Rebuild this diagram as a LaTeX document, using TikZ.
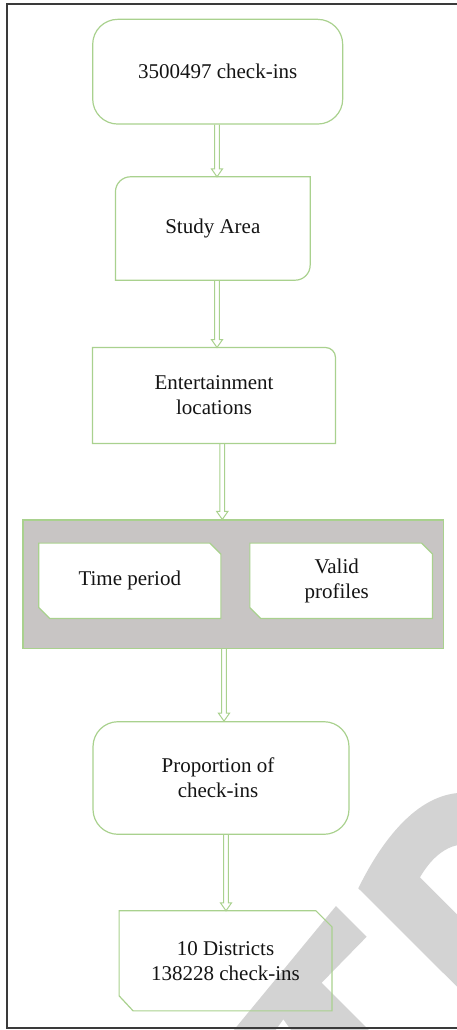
\documentclass[tikz,border=0pt]{standalone}
\usepackage{fontspec}
\setmainfont{Liberation Serif}
\usetikzlibrary{calc}
\definecolor{boxgreen}{HTML}{A9D18E}
\definecolor{panelgrey}{RGB}{200,197,196}
\definecolor{wmgrey}{RGB}{211,211,211}
\definecolor{framegrey}{HTML}{3A3A3A}
\tikzset{
  txt/.style={font=\fontsize{21}{25}\selectfont, align=center, text=black!92, inner sep=0pt},
  boxline/.style={draw=boxgreen, line width=1.2pt},
  plainbox/.style={txt, draw=none},
  roundbox/.style={txt, boxline, rounded corners=25pt},
  panel/.style={boxline, fill=panelgrey, inner sep=0pt},
  framestyle/.style={draw=framegrey, line width=1.6pt},
  watermark/.style={fill=wmgrey, draw=none},
  dblarrow/.style={boxline, line width=1pt, line join=miter,
    to path={let \p1=(\tikztostart), \p2=(\tikztotarget) in
      (\x1-2.4pt,\y1) -- (\x1-2.4pt,\y2+8pt) -- (\x1-5.6pt,\y2+8pt) -- (\x1,\y2)
      -- (\x1+5.6pt,\y2+8pt) -- (\x1+2.4pt,\y2+8pt) -- (\x1+2.4pt,\y1)}}
}
\begin{document}
\begin{tikzpicture}[x=1pt,y=-1pt]
\useasboundingbox (0,0) rectangle (457,1030);
\clip (0,0) rectangle (457,1030);

% watermark
\path[watermark] (233,1031) -- (336,906) -- (366.7,936.7) -- (321.7,982.7) -- (370,1031)
  -- (291.7,1031) -- (283.3,1019.3) -- (275,1031) -- cycle;
\path[watermark] (358.3,888.3) .. controls (378,848) and (412,797) .. (458,793) -- (458,845)
  .. controls (443,848) and (430,860) .. (420,877.3) -- (458,915.3) -- (458,987.7) -- cycle;

% outer frame
\draw[framestyle] (460,4) -- (6.7,4) -- (6.7,1028) -- (460,1028);

% boxes
\node[roundbox, minimum width=250pt, minimum height=104.7pt] (b1) at (217.7,71.7) {3500497 check-ins};

\node[plainbox, minimum width=194.3pt, minimum height=103pt] (b2) at (212.8,228.5) {Study Area};
\draw[boxline] (b2.north east) -- ([yshift=15pt]b2.south east)
  arc[start angle=0, end angle=-90, radius=15pt] -- (b2.south west)
  -- ([yshift=-15pt]b2.north west) arc[start angle=180, end angle=90, radius=15pt] -- cycle;

\node[plainbox, minimum width=242.6pt, minimum height=95.6pt] (b3) at (214,395.5) {Entertainment\\locations};
\draw[boxline] ([xshift=-10pt]b3.north east) arc[start angle=90, end angle=0, radius=10pt]
  -- (b3.south east) -- (b3.south west) -- (b3.north west) -- cycle;

\node[panel, minimum width=420.3pt, minimum height=128.3pt] (grp) at (233.2,584.2) {};

\node[plainbox, minimum width=181.7pt, minimum height=75pt] (tp) at (129.8,580.8) {};
\node[plainbox, minimum width=182.3pt, minimum height=75pt] (vp) at (341.2,580.8) {};
\fill[white] ([xshift=-11pt]tp.north east) -- ([yshift=-11pt]tp.north east) -- (tp.south east)
  -- ([xshift=11pt]tp.south west) -- ([yshift=11pt]tp.south west) -- (tp.north west) -- cycle;
\fill[white] ([xshift=-11pt]vp.north east) -- ([yshift=-11pt]vp.north east) -- (vp.south east)
  -- ([xshift=11pt]vp.south west) -- ([yshift=11pt]vp.south west) -- (vp.north west) -- cycle;
\node[txt] (tptext) at (tp.center) {Time period};
\node[txt] (vptext) at ([xshift=-4.5pt]vp.center) {Valid\\profiles};
\draw[boxline] ([xshift=-11pt]tp.north east) -- ([yshift=-11pt]tp.north east) -- (tp.south east)
  -- ([xshift=11pt]tp.south west) -- ([yshift=11pt]tp.south west) -- (tp.north west) -- cycle;
\draw[boxline] ([xshift=-11pt]vp.north east) -- ([yshift=-11pt]vp.north east) -- (vp.south east)
  -- ([xshift=11pt]vp.south west) -- ([yshift=11pt]vp.south west) -- (vp.north west) -- cycle;

\node[roundbox, minimum width=256pt, minimum height=112.6pt] (b5) at (221,778) {\hspace*{-6pt}Proportion of\\\hspace*{-6pt}check-ins};

\node[plainbox, minimum width=212.4pt, minimum height=99.7pt] (b6) at (225.5,960.8) {10 Districts\\138228 check-ins};
\draw[boxline] ([xshift=-16pt]b6.north east) -- ([yshift=-16pt]b6.north east) -- (b6.south east)
  -- ([xshift=14pt]b6.south west) -- ([yshift=15pt]b6.south west) -- (b6.north west) -- cycle;

% connectors
\draw[dblarrow] ([xshift=-0.7pt]b1.south) to (b2.north);
\draw[dblarrow] ([xshift=4.2pt]b2.south) to (b3.north);
\draw[dblarrow] ([xshift=8.3pt]b3.south) to (grp.north);
\draw[dblarrow] ([xshift=-9.2pt]grp.south) to (b5.north);
\draw[dblarrow] ([xshift=5pt]b5.south) to (b6.north);
\end{tikzpicture}
\end{document}
